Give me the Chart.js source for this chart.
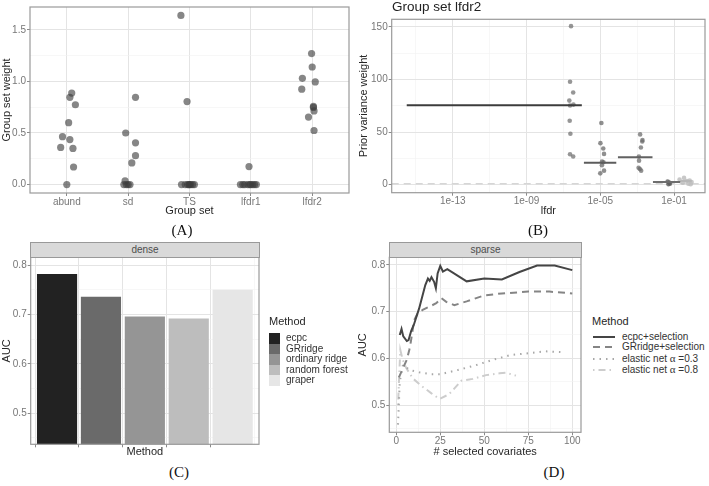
<!DOCTYPE html>
<html>
<head>
<meta charset="utf-8">
<script src="https://cdn.jsdelivr.net/npm/chart.js@4.4.1/dist/chart.umd.min.js"></script>
<style>
  body { margin: 0; background: #fff; width: 709px; height: 486px; position: relative; overflow: hidden; font-family: 'Liberation Sans', Arial, sans-serif; }
  canvas { position: absolute; }
  .strip { position: absolute; background: #d9d9d9; border: 1px solid #999; box-sizing: border-box; font-size: 10px; color: #4d4d4d; text-align: center; line-height: 13px; }
  .tag { position: absolute; font-family: 'Liberation Serif', serif; font-size: 15px; color: #111; transform: translate(-50%, -50%); }
  .leg { position: absolute; font-size: 10px; color: #333; white-space: nowrap; line-height: 12px; }
  .legtitle { position: absolute; font-size: 11px; color: #262626; }
  .greek { font-family: 'Liberation Serif', serif; font-size: 11px; }
</style>
</head>
<body>
<canvas id="chartA" width="355" height="222" style="left:0;top:0"></canvas>
<canvas id="chartB" width="354" height="222" style="left:355px;top:0"></canvas>
<canvas id="chartC" width="355" height="226" style="left:0;top:236px"></canvas>
<canvas id="chartD" width="230" height="226" style="left:355px;top:236px"></canvas>

<div style="position:absolute;left:392px;top:-1px;font-size:13.5px;color:#222">Group set lfdr2</div>
<div class="strip" style="left:30px;top:242px;width:230px;height:16px">dense</div>
<div class="strip" style="left:389px;top:242px;width:193px;height:16px">sparse</div>
<div class="tag" style="left:182px;top:230px">(A)</div>
<div class="tag" style="left:538px;top:230px">(B)</div>
<div class="tag" style="left:179px;top:472px">(C)</div>
<div class="tag" style="left:554px;top:472px">(D)</div>
<div id="legendC"></div>
<div id="legendD"></div>

<script>
// (A) group set weights, pos = jittered position on the group axis
const groupSets = ['abund', 'sd', 'TS', 'lfdr1', 'lfdr2']
const abundWeight = [0, 0.36, 0.464, 0.6, 0.436, 0.35, 0.17, 0.846, 0.887, 0.774]
const abundPos = [1.0, 0.9, 0.93, 1.03, 1.05, 1.1, 1.11, 1.05, 1.08, 1.14]
const sdWeight = [0, 0, 0, 0, 0.035, 0.5, 0.405, 0.28, 0.21, 0.846]
const sdPos = [1.93, 1.97, 2.0, 2.03, 1.95, 1.96, 2.12, 2.12, 2.06, 2.12]
const tsWeight = [1.64, 0.805, 0, 0, 0, 0, 0, 0, 0, 0]
const tsPos = [2.86, 2.96, 2.87, 2.93, 2.97, 2.99, 3.0, 3.02, 3.05, 3.08]
const lfdr1Weight = [0.174, 0, 0, 0, 0, 0, 0, 0, 0, 0]
const lfdr1Pos = [3.97, 3.83, 3.87, 3.9, 3.95, 3.98, 4.0, 4.03, 4.06, 4.09]
const lfdr2Weight = [1.27, 1.14, 1.03, 0.995, 0.925, 0.758, 0.748, 0.714, 0.654, 0.524]
const lfdr2Pos = [4.99, 5.0, 4.84, 5.05, 4.83, 5.02, 5.02, 5.03, 4.94, 5.03]

// (B) prior variance weights per lfdr bin
const binStart = [3.2e-16, 1.3e-6, 9.1e-5, 7.2e-3, 0.22]
const binEnd = [1.0e-6, 7.4e-5, 6.8e-3, 0.22, 0.9]
const binWeight = [75.5, 21, 26, 2.5, 3.5]
const bin1Lfdr = [2.6e-7, 2.3e-7, 3.4e-7, 2.1e-7, 3.5e-7, 2.3e-7, 2.2e-7, 2.4e-7, 2.3e-7, 3.4e-7]
const bin1Weight = [150.6, 97.8, 87.6, 79.9, 76.1, 75.2, 60.8, 48.4, 29.0, 26.8]
const bin2Lfdr = [1.15e-5, 1.02e-5, 1.45e-5, 1.6e-5, 1.26e-5, 1.5e-5, 1.23e-5, 1.6e-5, 1.0e-5]
const bin2Weight = [58.6, 39.5, 34.4, 29.3, 22.0, 21.3, 18.5, 13.4, 10.8]
const bin3Lfdr = [1.45e-3, 1.95e-3, 1.9e-3, 1.6e-3, 1.24e-3, 1.27e-3, 1.2e-3, 1.65e-3, 1.4e-3]
const bin3Weight = [47.8, 42.4, 41.1, 35.4, 26.8, 22.9, 16.2, 13.4, 15.0]
const bin4Lfdr = [0.045, 0.055, 0.06, 0.05]
const bin4Weight = [3.0, 2.0, 1.0, 0.5]
const bin5Lfdr = [0.2, 0.3, 0.35, 0.5, 0.6, 0.7, 0.8, 0.9]
const bin5Weight = [5, 2, 6.5, 3.5, 1, 4, 0.5, 2.5]
const baselineWeight = 1

// (C) dense AUC
const methods = ['ecpc', 'GRridge', 'ordinary ridge', 'random forest', 'graper']
const denseAuc = [0.781, 0.735, 0.695, 0.691, 0.749]

// (D) sparse AUC against number of selected covariates
const sparseMethods = ['ecpc+selection', 'GRridge+selection', 'elastic net α =0.3', 'elastic net α =0.8']
const ecpcN = [2, 3, 4, 6, 7, 8.5, 10, 13, 16.5, 18, 19, 20, 21.5, 22.5, 23.5, 25, 26.5, 29, 40, 50, 60, 70, 80, 90, 100]
const ecpcAuc = [0.650, 0.663, 0.647, 0.637, 0.639, 0.659, 0.672, 0.707, 0.757, 0.771, 0.766, 0.774, 0.764, 0.750, 0.782, 0.798, 0.786, 0.791, 0.765, 0.771, 0.769, 0.785, 0.799, 0.799, 0.789]
const grN = [1.5, 3.8, 6, 7.4, 8.3, 10.2, 12, 15, 19, 22.7, 25.6, 28.4, 33, 40, 50, 60, 75, 87, 100]
const grAuc = [0.559, 0.579, 0.597, 0.618, 0.636, 0.682, 0.695, 0.704, 0.711, 0.718, 0.729, 0.721, 0.714, 0.722, 0.735, 0.739, 0.743, 0.743, 0.739]
const en3N = [1, 2, 3.8, 7.6, 13, 20, 25, 35, 45, 55, 65, 75, 85, 96]
const en3Auc = [0.458, 0.55, 0.586, 0.575, 0.570, 0.566, 0.566, 0.575, 0.585, 0.597, 0.607, 0.611, 0.615, 0.613]
const en8N = [1, 2.3, 3.6, 5.7, 9.4, 15, 20, 24.6, 30, 37, 43.5, 51, 58.7, 62.5, 68]
const en8Auc = [0.50, 0.618, 0.598, 0.579, 0.557, 0.539, 0.525, 0.513, 0.523, 0.552, 0.556, 0.564, 0.568, 0.569, 0.563]

const TICK = '#777'
const TITLE = '#262626'
const GRID = '#e4e4e4'
const MINOR = '#f2f2f2'

Chart.defaults.font.family = "'Liberation Sans', Arial, sans-serif"

const panelBorder = {
  id: 'panelBorder',
  afterDraw (chart) {
    const { ctx, chartArea: a } = chart
    ctx.save()
    ctx.strokeStyle = '#9a9a9a'
    ctx.lineWidth = 1.2
    ctx.strokeRect(a.left, a.top, a.right - a.left, a.bottom - a.top)
    ctx.restore()
  }
}

function axis ({ type = 'linear', min, max, ticks, majors, label, size, title, titlePad = 0, pos }) {
  const isMajor = v => majors.some(m => m === 0 ? Math.abs(v) < 1e-9 : Math.abs(v / m - 1) < 1e-6)
  const vertical = pos === 'left'
  const major = c => c.tick && isMajor(c.tick.value)
  return {
    type,
    min,
    max,
    position: pos,
    offset: false,
    afterBuildTicks: s => { s.ticks = ticks.map(v => ({ value: v })) },
    afterFit: s => { if (vertical) s.width = size; else s.height = size },
    ticks: { autoSkip: false, maxRotation: 0, padding: vertical ? 1 : 0, color: TICK, font: { size: 10 }, callback: v => isMajor(v) ? label(v) : '' },
    grid: {
      color: c => major(c) ? GRID : MINOR,
      lineWidth: c => major(c) ? 1 : 0.6,
      tickLength: 3,
      tickColor: c => major(c) ? '#8a8a8a' : 'rgba(0,0,0,0)'
    },
    border: { display: false },
    title: { display: !!title, text: title, color: TITLE, font: { size: 11 }, padding: vertical ? { top: titlePad, bottom: 0 } : { top: 0, bottom: titlePad } }
  }
}

function options (padding, x, y) {
  return {
    responsive: false,
    animation: false,
    events: [],
    layout: { padding },
    plugins: { legend: { display: false }, tooltip: { enabled: false } },
    scales: { x, y }
  }
}

const pts = (xs, ys) => xs.map((x, i) => ({ x, y: ys[i] }))

// (A)
const aGroups = [[abundPos, abundWeight], [sdPos, sdWeight], [tsPos, tsWeight], [lfdr1Pos, lfdr1Weight], [lfdr2Pos, lfdr2Weight]]
new Chart(document.getElementById('chartA'), {
  type: 'scatter',
  data: {
    datasets: aGroups.map(g => ({
      data: pts(g[0], g[1]),
      backgroundColor: 'rgba(60,60,60,0.62)',
      borderWidth: 0,
      pointRadius: 3.6
    }))
  },
  options: options({ top: 2, right: 6, left: 0, bottom: 0 },
    axis({ pos: 'bottom', min: 0.4, max: 5.6, ticks: [1, 2, 3, 4, 5], majors: [1, 2, 3, 4, 5], label: v => groupSets[Math.round(v) - 1], size: 29, title: 'Group set', titlePad: 4 }),
    axis({ pos: 'left', min: -0.082, max: 1.722, ticks: [0, 0.25, 0.5, 0.75, 1, 1.25, 1.5], majors: [0, 0.5, 1, 1.5], label: v => v.toFixed(1), size: 30, title: 'Group set weight', titlePad: 0 })),
  plugins: [panelBorder]
})

// (B)
const segColors = ['#3c3c3c', '#5c5c5c', '#626262', '#6e6e6e', '#b8b8b8']
const binPoints = [[bin1Lfdr, bin1Weight], [bin2Lfdr, bin2Weight], [bin3Lfdr, bin3Weight], [bin4Lfdr, bin4Weight], [bin5Lfdr, bin5Weight]]
const binPointColors = ['rgba(115,115,115,0.75)', 'rgba(105,105,105,0.75)', 'rgba(110,110,110,0.75)', 'rgba(95,95,95,0.8)', 'rgba(190,190,190,0.85)']
const xMinB = Math.pow(10, -16.31)
const xMaxB = Math.pow(10, 0.68)
const bDatasets = []
binStart.forEach((s, i) => bDatasets.push({
  data: [{ x: s, y: binWeight[i] }, { x: binEnd[i], y: binWeight[i] }],
  showLine: true,
  borderColor: segColors[i],
  borderWidth: 2,
  pointRadius: 0
}))
binPoints.forEach((g, i) => bDatasets.push({
  data: pts(g[0], g[1]),
  backgroundColor: binPointColors[i],
  borderWidth: 0,
  pointRadius: 2.3
}))
bDatasets.push({
  data: [{ x: xMinB, y: baselineWeight }, { x: xMaxB, y: baselineWeight }],
  showLine: true,
  borderColor: '#d6d6d6',
  borderDash: [7, 5],
  borderWidth: 1.6,
  pointRadius: 0
})
const logTicks = [1e-15, 1e-13, 1e-11, 1e-9, 1e-7, 1e-5, 1e-3, 1e-1]
new Chart(document.getElementById('chartB'), {
  type: 'scatter',
  data: { datasets: bDatasets },
  options: options({ top: 19.3, right: 1, left: 0, bottom: 0 },
    axis({ type: 'logarithmic', pos: 'bottom', min: xMinB, max: xMaxB, ticks: logTicks, majors: [1e-13, 1e-9, 1e-5, 1e-1], label: v => '1e-' + String(Math.round(-Math.log10(v))).padStart(2, '0'), size: 29.3, title: 'lfdr', titlePad: 4 }),
    axis({ pos: 'left', min: -7.55, max: 157.1, ticks: [0, 25, 50, 75, 100, 125, 150], majors: [0, 50, 100, 150], label: v => String(v), size: 36.7, title: 'Prior variance weight', titlePad: 2.4 })),
  plugins: [panelBorder]
})

// (C)
const methodFills = ['#222222', '#6a6a6a', '#959595', '#bdbdbd', '#e6e6e6']
new Chart(document.getElementById('chartC'), {
  type: 'bar',
  data: {
    datasets: [{
      data: pts(methods.map((m, i) => i + 1), denseAuc),
      backgroundColor: methodFills,
      borderWidth: 0,
      barThickness: 39.5
    }]
  },
  options: options({ top: 21.3, right: 96, left: 0, bottom: 0 },
    axis({ pos: 'bottom', min: 0.4, max: 5.6, ticks: [1, 2, 3, 4, 5], majors: [1, 2, 3, 4, 5], label: () => '', size: 17.7, title: 'Method', titlePad: 3 }),
    axis({ pos: 'left', min: 0.437, max: 0.8156, ticks: [0.45, 0.5, 0.55, 0.6, 0.65, 0.7, 0.75, 0.8], majors: [0.5, 0.6, 0.7, 0.8], label: v => v.toFixed(1), size: 30.7, title: 'AUC', titlePad: 0 })),
  plugins: [panelBorder]
})

// (D)
const lineStyles = [
  { color: '#454545', dash: [] },
  { color: '#858585', dash: [7, 5] },
  { color: '#a8a8a8', dash: [1.5, 5] },
  { color: '#cdcdcd', dash: [1.5, 4, 7, 4] }
]
const dSeries = [[ecpcN, ecpcAuc], [grN, grAuc], [en3N, en3Auc], [en8N, en8Auc]]
new Chart(document.getElementById('chartD'), {
  type: 'scatter',
  data: {
    datasets: dSeries.map((s, i) => ({
      data: pts(s[0], s[1]),
      showLine: true,
      borderColor: lineStyles[i].color,
      borderDash: lineStyles[i].dash,
      borderWidth: 2,
      pointRadius: 0
    }))
  },
  options: options({ top: 21.3, right: 4, left: 0, bottom: 0 },
    axis({ pos: 'bottom', min: -3.95, max: 104.95, ticks: [0, 12.5, 25, 37.5, 50, 62.5, 75, 87.5, 100], majors: [0, 25, 50, 75, 100], label: v => String(v), size: 29.7, title: '# selected covariates', titlePad: 3 }),
    axis({ pos: 'left', min: 0.4415, max: 0.8165, ticks: [0.45, 0.5, 0.55, 0.6, 0.65, 0.7, 0.75, 0.8], majors: [0.5, 0.6, 0.7, 0.8], label: v => v.toFixed(1), size: 34.3, title: 'AUC', titlePad: 1.7 })),
  plugins: [panelBorder]
})

// legends
let htmlC = '<div class="legtitle" style="left:269px;top:315px">Method</div>'
methods.forEach((m, i) => {
  const top = 333 + 10.5 * i
  htmlC += `<div style="position:absolute;left:269px;top:${top}px;width:10.5px;height:10.5px;background:${methodFills[i]}"></div>`
  htmlC += `<div class="leg" style="left:286px;top:${top - 0.8}px">${m}</div>`
})
document.getElementById('legendC').innerHTML = htmlC

const rowsD = [337, 347, 358.5, 369.5]
let htmlD = '<div class="legtitle" style="left:592px;top:315px">Method</div>'
sparseMethods.forEach((m, i) => {
  const y = rowsD[i]
  const st = lineStyles[i]
  htmlD += `<svg style="position:absolute;left:592px;top:${y - 3}px" width="24" height="6"><line x1="1" y1="3" x2="23" y2="3" stroke="${st.color}" stroke-width="2" stroke-dasharray="${st.dash.join(' ')}"/></svg>`
  const text = m.replace('α', '<span class="greek">α</span>')
  htmlD += `<div class="leg" style="left:622px;top:${y - 6.5}px">${text}</div>`
})
document.getElementById('legendD').innerHTML = htmlD
</script>
</body>
</html>
